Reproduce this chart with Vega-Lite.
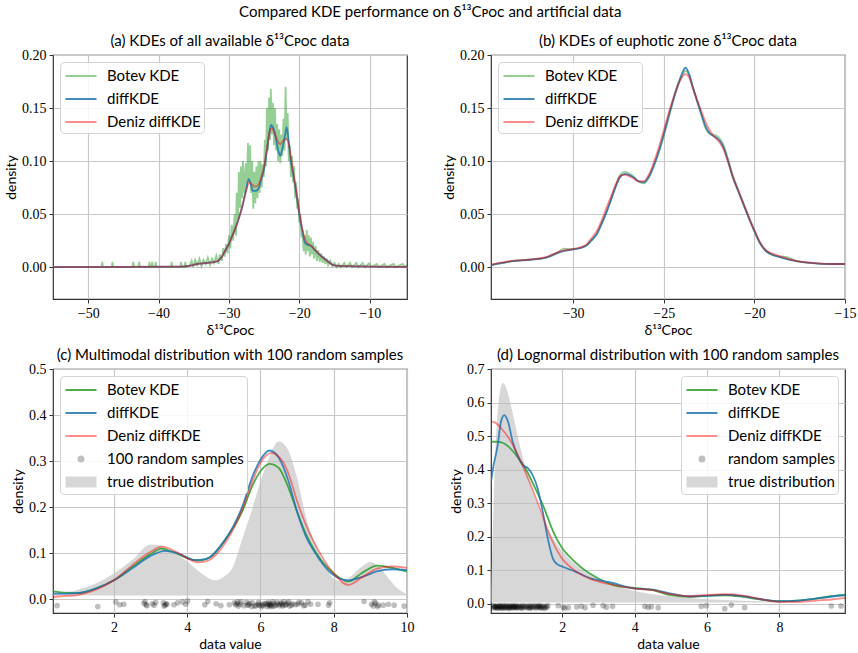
{
"$schema": "https://vega.github.io/schema/vega-lite/v6.json",
"padding": {"left": 3, "top": 5, "right": 0, "bottom": 0},
"title": {"text": "Compared KDE performance on δ¹³Cᴘᴏᴄ and artificial data", "frame": "bounds", "anchor": "middle", "fontSize": 15, "offset": 13},
"columns": 2,
"spacing": {"row": 70, "column": 84},
"bounds": "flush",
"resolve": {"scale": {"color": "independent", "stroke": "independent", "shape": "independent", "x": "independent", "y": "independent"}, "legend": {"color": "independent", "stroke": "independent", "shape": "independent"}},
"datasets": {
"a_botev": [{"x":-55,"y":0},{"x":-48.1,"y":0},{"x":-48.0,"y":0.005},{"x":-47.9,"y":0},{"x":-46.65,"y":0},{"x":-46.55,"y":0.005},{"x":-46.45,"y":0},{"x":-43.7,"y":0},{"x":-43.6,"y":0.005},{"x":-43.5,"y":0},{"x":-42.85,"y":0},{"x":-42.75,"y":0.005},{"x":-42.65,"y":0},{"x":-41.4,"y":0},{"x":-41.3,"y":0.005},{"x":-41.2,"y":0},{"x":-41.0,"y":0},{"x":-40.9,"y":0.005},{"x":-40.8,"y":0},{"x":-40.5,"y":0},{"x":-40.4,"y":0.005},{"x":-40.3,"y":0},{"x":-38.25,"y":0},{"x":-38.15,"y":0.005},{"x":-38.05,"y":0},{"x":-36.9,"y":0},{"x":-36.8,"y":0.005},{"x":-36.7,"y":0},{"x":-36.3,"y":0},{"x":-36.2,"y":0.005},{"x":-36.1,"y":0},{"x":-35.6,"y":0.001},{"x":-35.3,"y":0.006},{"x":-35.1,"y":0.0},{"x":-34.8,"y":0.007},{"x":-34.5,"y":0.002},{"x":-34.2,"y":0.008},{"x":-33.9,"y":0.001},{"x":-33.6,"y":0.007},{"x":-33.3,"y":0.003},{"x":-33.0,"y":0.009},{"x":-32.7,"y":0.002},{"x":-32.4,"y":0.008},{"x":-32.1,"y":0.004},{"x":-31.8,"y":0.011},{"x":-31.5,"y":0.003},{"x":-31.3,"y":0.012},{"x":-31.0,"y":0.006},{"x":-30.8,"y":0.018},{"x":-30.6,"y":0.01},{"x":-30.4,"y":0.022},{"x":-30.2,"y":0.013},{"x":-30.0,"y":0.03},{"x":-29.8,"y":0.018},{"x":-29.6,"y":0.04},{"x":-29.4,"y":0.025},{"x":-29.2,"y":0.05},{"x":-29.0,"y":0.03},{"x":-28.9,"y":0.07},{"x":-28.7,"y":0.045},{"x":-28.6,"y":0.09},{"x":-28.4,"y":0.056},{"x":-28.3,"y":0.095},{"x":-28.1,"y":0.065},{"x":-28.0,"y":0.1},{"x":-27.8,"y":0.07},{"x":-27.6,"y":0.098},{"x":-27.45,"y":0.075},{"x":-27.3,"y":0.117},{"x":-27.15,"y":0.08},{"x":-27.0,"y":0.115},{"x":-26.85,"y":0.07},{"x":-26.7,"y":0.1},{"x":-26.55,"y":0.055},{"x":-26.4,"y":0.09},{"x":-26.25,"y":0.06},{"x":-26.1,"y":0.095},{"x":-25.95,"y":0.065},{"x":-25.8,"y":0.1},{"x":-25.65,"y":0.07},{"x":-25.5,"y":0.1},{"x":-25.35,"y":0.075},{"x":-25.2,"y":0.097},{"x":-25.05,"y":0.085},{"x":-24.9,"y":0.12},{"x":-24.75,"y":0.095},{"x":-24.6,"y":0.15},{"x":-24.45,"y":0.11},{"x":-24.3,"y":0.16},{"x":-24.15,"y":0.12},{"x":-24.05,"y":0.168},{"x":-23.9,"y":0.125},{"x":-23.75,"y":0.155},{"x":-23.6,"y":0.115},{"x":-23.45,"y":0.15},{"x":-23.3,"y":0.11},{"x":-23.15,"y":0.135},{"x":-23.0,"y":0.1},{"x":-22.85,"y":0.13},{"x":-22.7,"y":0.098},{"x":-22.55,"y":0.125},{"x":-22.4,"y":0.105},{"x":-22.25,"y":0.14},{"x":-22.1,"y":0.11},{"x":-21.95,"y":0.17},{"x":-21.8,"y":0.12},{"x":-21.65,"y":0.145},{"x":-21.5,"y":0.1},{"x":-21.35,"y":0.115},{"x":-21.2,"y":0.085},{"x":-21.05,"y":0.105},{"x":-20.9,"y":0.08},{"x":-20.75,"y":0.095},{"x":-20.6,"y":0.065},{"x":-20.45,"y":0.08},{"x":-20.3,"y":0.055},{"x":-20.15,"y":0.065},{"x":-20.0,"y":0.042},{"x":-19.85,"y":0.05},{"x":-19.7,"y":0.028},{"x":-19.55,"y":0.035},{"x":-19.4,"y":0.015},{"x":-19.25,"y":0.03},{"x":-19.1,"y":0.012},{"x":-18.95,"y":0.035},{"x":-18.8,"y":0.015},{"x":-18.65,"y":0.03},{"x":-18.5,"y":0.01},{"x":-18.35,"y":0.028},{"x":-18.2,"y":0.012},{"x":-18.05,"y":0.024},{"x":-17.9,"y":0.008},{"x":-17.7,"y":0.02},{"x":-17.5,"y":0.006},{"x":-17.3,"y":0.016},{"x":-17.1,"y":0.005},{"x":-16.9,"y":0.013},{"x":-16.7,"y":0.004},{"x":-16.5,"y":0.01},{"x":-16.3,"y":0.003},{"x":-16.1,"y":0.008},{"x":-15.9,"y":0.002},{"x":-15.6,"y":0.006},{"x":-15.3,"y":0.001},{"x":-15.0,"y":0.004},{"x":-14.7,"y":0.0},{"x":-14.4,"y":0.003},{"x":-14.1,"y":0.0},{"x":-13.6,"y":0.004},{"x":-13.3,"y":0.0},{"x":-12.8,"y":0.004},{"x":-12.5,"y":0.0},{"x":-11.9,"y":0.004},{"x":-11.6,"y":0.0},{"x":-11.0,"y":0.004},{"x":-10.7,"y":0.0},{"x":-10.1,"y":0.0035},{"x":-9.8,"y":0.0},{"x":-9.0,"y":0.003},{"x":-8.7,"y":0.0},{"x":-7.9,"y":0.003},{"x":-7.6,"y":0.0},{"x":-6.6,"y":0.003},{"x":-6.3,"y":0.0},{"x":-5.3,"y":0.003},{"x":-5.0,"y":0.0},{"x":-4.7,"y":0.002}],
"a_diff": [{"x":-55,"y":0},{"x":-45,"y":0.0002},{"x":-37,"y":0.0005},{"x":-35.5,"y":0.0015},{"x":-34.5,"y":0.003},{"x":-33,"y":0.004},{"x":-32,"y":0.005},{"x":-31.5,"y":0.006},{"x":-31,"y":0.01},{"x":-30.5,"y":0.016},{"x":-30,"y":0.022},{"x":-29.5,"y":0.03},{"x":-29,"y":0.038},{"x":-28.5,"y":0.048},{"x":-28,"y":0.06},{"x":-27.6,"y":0.072},{"x":-27.2,"y":0.083},{"x":-26.9,"y":0.078},{"x":-26.6,"y":0.072},{"x":-26.2,"y":0.072},{"x":-25.8,"y":0.074},{"x":-25.4,"y":0.083},{"x":-25,"y":0.093},{"x":-24.6,"y":0.11},{"x":-24.3,"y":0.125},{"x":-24.0,"y":0.134},{"x":-23.7,"y":0.131},{"x":-23.4,"y":0.124},{"x":-23.0,"y":0.11},{"x":-22.7,"y":0.105},{"x":-22.4,"y":0.112},{"x":-22.0,"y":0.125},{"x":-21.8,"y":0.132},{"x":-21.5,"y":0.118},{"x":-21.2,"y":0.1},{"x":-20.8,"y":0.085},{"x":-20.5,"y":0.073},{"x":-20,"y":0.05},{"x":-19.5,"y":0.032},{"x":-19.2,"y":0.023},{"x":-18.8,"y":0.021},{"x":-18.3,"y":0.02},{"x":-17.8,"y":0.016},{"x":-17,"y":0.011},{"x":-16,"y":0.006},{"x":-15.2,"y":0.002},{"x":-14.5,"y":0.0012},{"x":-12,"y":0.0008},{"x":-10,"y":0.0005},{"x":-7,"y":0.0003},{"x":-4.7,"y":0.0002}],
"a_deniz": [{"x":-55,"y":0},{"x":-45,"y":0.0002},{"x":-37,"y":0.0005},{"x":-35.5,"y":0.0015},{"x":-34.5,"y":0.003},{"x":-33,"y":0.004},{"x":-32,"y":0.005},{"x":-31.5,"y":0.006},{"x":-31,"y":0.01},{"x":-30.5,"y":0.016},{"x":-30,"y":0.022},{"x":-29.5,"y":0.03},{"x":-29,"y":0.038},{"x":-28.5,"y":0.048},{"x":-28,"y":0.06},{"x":-27.5,"y":0.073},{"x":-27.1,"y":0.08},{"x":-26.7,"y":0.078},{"x":-26.3,"y":0.076},{"x":-25.9,"y":0.077},{"x":-25.5,"y":0.083},{"x":-25,"y":0.095},{"x":-24.6,"y":0.112},{"x":-24.2,"y":0.128},{"x":-23.9,"y":0.131},{"x":-23.5,"y":0.126},{"x":-23.0,"y":0.118},{"x":-22.7,"y":0.116},{"x":-22.3,"y":0.119},{"x":-21.9,"y":0.121},{"x":-21.5,"y":0.116},{"x":-21.1,"y":0.1},{"x":-20.7,"y":0.083},{"x":-20.3,"y":0.066},{"x":-20,"y":0.052},{"x":-19.5,"y":0.034},{"x":-19,"y":0.024},{"x":-18.5,"y":0.021},{"x":-18,"y":0.018},{"x":-17.3,"y":0.013},{"x":-16.5,"y":0.008},{"x":-15.5,"y":0.003},{"x":-14.5,"y":0.0012},{"x":-12,"y":0.0008},{"x":-10,"y":0.0005},{"x":-4.7,"y":0.0002}],
"b_botev": [{"x":-34.53,"y":0.002},{"x":-33.9,"y":0.004},{"x":-33.3,"y":0.006},{"x":-32.4,"y":0.007},{"x":-31.5,"y":0.009},{"x":-30.9,"y":0.013},{"x":-30.5,"y":0.0175},{"x":-30.2,"y":0.017},{"x":-30,"y":0.017},{"x":-29.3,"y":0.02},{"x":-29.0,"y":0.025},{"x":-28.7,"y":0.031},{"x":-28.45,"y":0.04},{"x":-28.2,"y":0.05},{"x":-27.9,"y":0.064},{"x":-27.6,"y":0.079},{"x":-27.4,"y":0.087},{"x":-27.15,"y":0.09},{"x":-26.9,"y":0.088},{"x":-26.7,"y":0.086},{"x":-26.4,"y":0.081},{"x":-26.1,"y":0.079},{"x":-25.8,"y":0.085},{"x":-25.5,"y":0.097},{"x":-25.2,"y":0.112},{"x":-24.95,"y":0.127},{"x":-24.7,"y":0.143},{"x":-24.2,"y":0.172},{"x":-24.0,"y":0.18},{"x":-23.8,"y":0.185},{"x":-23.6,"y":0.181},{"x":-23.4,"y":0.17},{"x":-22.9,"y":0.142},{"x":-22.7,"y":0.131},{"x":-22.5,"y":0.126},{"x":-22.3,"y":0.125},{"x":-22.1,"y":0.124},{"x":-21.9,"y":0.121},{"x":-21.7,"y":0.115},{"x":-21.45,"y":0.102},{"x":-21.2,"y":0.087},{"x":-20.9,"y":0.073},{"x":-20.6,"y":0.06},{"x":-20.3,"y":0.047},{"x":-20.0,"y":0.034},{"x":-19.7,"y":0.023},{"x":-19.35,"y":0.015},{"x":-18.8,"y":0.0105},{"x":-18.2,"y":0.0095},{"x":-17.7,"y":0.006},{"x":-16.8,"y":0.004},{"x":-15.9,"y":0.003},{"x":-15,"y":0.003}],
"b_diff": [{"x":-34.53,"y":0.002},{"x":-33.9,"y":0.004},{"x":-33.3,"y":0.0057},{"x":-32.4,"y":0.007},{"x":-31.5,"y":0.009},{"x":-30.7,"y":0.0145},{"x":-30,"y":0.0167},{"x":-29.3,"y":0.02},{"x":-29.0,"y":0.025},{"x":-28.7,"y":0.031},{"x":-28.45,"y":0.04},{"x":-28.2,"y":0.05},{"x":-27.9,"y":0.064},{"x":-27.6,"y":0.078},{"x":-27.4,"y":0.085},{"x":-27.15,"y":0.088},{"x":-26.7,"y":0.085},{"x":-26.4,"y":0.081},{"x":-26.1,"y":0.08},{"x":-25.8,"y":0.086},{"x":-25.5,"y":0.098},{"x":-25.2,"y":0.113},{"x":-24.95,"y":0.128},{"x":-24.7,"y":0.144},{"x":-24.2,"y":0.173},{"x":-24.0,"y":0.182},{"x":-23.8,"y":0.188},{"x":-23.6,"y":0.182},{"x":-23.4,"y":0.17},{"x":-22.9,"y":0.143},{"x":-22.7,"y":0.133},{"x":-22.5,"y":0.127},{"x":-22.3,"y":0.124},{"x":-22.1,"y":0.122},{"x":-21.9,"y":0.119},{"x":-21.7,"y":0.113},{"x":-21.45,"y":0.1},{"x":-21.2,"y":0.085},{"x":-20.9,"y":0.072},{"x":-20.6,"y":0.059},{"x":-20.3,"y":0.046},{"x":-20.0,"y":0.034},{"x":-19.7,"y":0.023},{"x":-19.35,"y":0.015},{"x":-18.6,"y":0.0095},{"x":-17.7,"y":0.0057},{"x":-16.8,"y":0.0038},{"x":-15.9,"y":0.003},{"x":-15,"y":0.003}],
"b_deniz": [{"x":-34.53,"y":0.0025},{"x":-33.9,"y":0.0045},{"x":-33.3,"y":0.006},{"x":-32.4,"y":0.0072},{"x":-31.5,"y":0.0095},{"x":-30.7,"y":0.015},{"x":-30.3,"y":0.0165},{"x":-30,"y":0.0172},{"x":-29.3,"y":0.021},{"x":-29.0,"y":0.027},{"x":-28.7,"y":0.034},{"x":-28.45,"y":0.043},{"x":-28.2,"y":0.054},{"x":-27.9,"y":0.067},{"x":-27.6,"y":0.08},{"x":-27.4,"y":0.086},{"x":-27.15,"y":0.087},{"x":-26.7,"y":0.084},{"x":-26.4,"y":0.081},{"x":-26.1,"y":0.081},{"x":-25.8,"y":0.088},{"x":-25.5,"y":0.101},{"x":-25.2,"y":0.117},{"x":-24.95,"y":0.132},{"x":-24.7,"y":0.147},{"x":-24.2,"y":0.172},{"x":-24.0,"y":0.179},{"x":-23.8,"y":0.182},{"x":-23.6,"y":0.179},{"x":-23.4,"y":0.169},{"x":-22.9,"y":0.146},{"x":-22.7,"y":0.137},{"x":-22.5,"y":0.13},{"x":-22.3,"y":0.125},{"x":-22.1,"y":0.121},{"x":-21.9,"y":0.117},{"x":-21.7,"y":0.111},{"x":-21.45,"y":0.099},{"x":-21.2,"y":0.086},{"x":-20.9,"y":0.073},{"x":-20.6,"y":0.06},{"x":-20.3,"y":0.047},{"x":-20.0,"y":0.035},{"x":-19.7,"y":0.024},{"x":-19.35,"y":0.016},{"x":-18.6,"y":0.0105},{"x":-17.7,"y":0.006},{"x":-16.8,"y":0.004},{"x":-15.9,"y":0.003},{"x":-15,"y":0.003}],
"c_true": [{"x":0.34,"y":0.011},{"x":0.6,"y":0.013},{"x":1,"y":0.02},{"x":1.5,"y":0.034},{"x":2,"y":0.056},{"x":2.5,"y":0.085},{"x":3,"y":0.119},{"x":3.25,"y":0.117},{"x":3.5,"y":0.107},{"x":4,"y":0.082},{"x":4.5,"y":0.05},{"x":4.75,"y":0.041},{"x":5,"y":0.049},{"x":5.25,"y":0.07},{"x":5.5,"y":0.13},{"x":5.75,"y":0.19},{"x":6,"y":0.255},{"x":6.25,"y":0.31},{"x":6.5,"y":0.343},{"x":6.75,"y":0.325},{"x":7,"y":0.263},{"x":7.25,"y":0.176},{"x":7.5,"y":0.118},{"x":7.75,"y":0.074},{"x":8,"y":0.045},{"x":8.25,"y":0.038},{"x":8.5,"y":0.052},{"x":8.75,"y":0.07},{"x":9,"y":0.081},{"x":9.25,"y":0.07},{"x":9.5,"y":0.045},{"x":9.75,"y":0.023},{"x":10,"y":0.011}],
"c_botev": [{"x":0.34,"y":0.017},{"x":0.7,"y":0.014},{"x":1,"y":0.013},{"x":1.5,"y":0.023},{"x":2,"y":0.041},{"x":2.5,"y":0.07},{"x":3,"y":0.098},{"x":3.3,"y":0.11},{"x":3.6,"y":0.103},{"x":4,"y":0.089},{"x":4.3,"y":0.084},{"x":4.6,"y":0.09},{"x":5,"y":0.125},{"x":5.5,"y":0.19},{"x":5.8,"y":0.25},{"x":6,"y":0.278},{"x":6.25,"y":0.294},{"x":6.5,"y":0.285},{"x":6.75,"y":0.245},{"x":7,"y":0.19},{"x":7.25,"y":0.14},{"x":7.5,"y":0.103},{"x":8,"y":0.056},{"x":8.4,"y":0.038},{"x":8.75,"y":0.056},{"x":9.2,"y":0.073},{"x":9.6,"y":0.068},{"x":10,"y":0.06}],
"c_diff": [{"x":0.34,"y":0.012},{"x":0.7,"y":0.012},{"x":1,"y":0.013},{"x":1.5,"y":0.023},{"x":2,"y":0.041},{"x":2.5,"y":0.067},{"x":3,"y":0.094},{"x":3.4,"y":0.105},{"x":3.8,"y":0.098},{"x":4.2,"y":0.085},{"x":4.5,"y":0.087},{"x":5,"y":0.125},{"x":5.5,"y":0.2},{"x":5.8,"y":0.27},{"x":6,"y":0.303},{"x":6.25,"y":0.323},{"x":6.5,"y":0.307},{"x":6.75,"y":0.26},{"x":7,"y":0.19},{"x":7.25,"y":0.135},{"x":7.5,"y":0.1},{"x":8,"y":0.052},{"x":8.4,"y":0.041},{"x":8.8,"y":0.049},{"x":9.2,"y":0.061},{"x":9.6,"y":0.065},{"x":10,"y":0.063}],
"c_deniz": [{"x":0.34,"y":0.005},{"x":0.7,"y":0.007},{"x":1,"y":0.009},{"x":1.5,"y":0.02},{"x":2,"y":0.041},{"x":2.5,"y":0.074},{"x":3,"y":0.103},{"x":3.3,"y":0.114},{"x":3.7,"y":0.103},{"x":4,"y":0.089},{"x":4.3,"y":0.08},{"x":4.6,"y":0.085},{"x":5,"y":0.118},{"x":5.5,"y":0.194},{"x":5.8,"y":0.26},{"x":6,"y":0.296},{"x":6.3,"y":0.318},{"x":6.6,"y":0.3},{"x":6.8,"y":0.265},{"x":7,"y":0.213},{"x":7.25,"y":0.16},{"x":7.5,"y":0.118},{"x":8,"y":0.056},{"x":8.4,"y":0.031},{"x":8.8,"y":0.049},{"x":9.2,"y":0.067},{"x":9.6,"y":0.071},{"x":10,"y":0.068}],
"c_samples": [{"x":0.45,"y":-0.014},{"x":1.56,"y":-0.016},{"x":2.05,"y":-0.006},{"x":2.16,"y":-0.012},{"x":2.27,"y":-0.011},{"x":2.82,"y":-0.009},{"x":2.85,"y":-0.005},{"x":3.10,"y":-0.013},{"x":3.14,"y":-0.007},{"x":3.37,"y":-0.015},{"x":3.42,"y":-0.01},{"x":3.64,"y":-0.012},{"x":3.74,"y":-0.008},{"x":3.87,"y":-0.006},{"x":3.96,"y":-0.011},{"x":4.01,"y":-0.004},{"x":4.48,"y":-0.012},{"x":4.56,"y":-0.005},{"x":4.79,"y":-0.01},{"x":4.92,"y":-0.014},{"x":5.15,"y":-0.012},{"x":5.29,"y":-0.008},{"x":5.36,"y":-0.01},{"x":5.40,"y":-0.015},{"x":5.47,"y":-0.006},{"x":5.65,"y":-0.013},{"x":5.70,"y":-0.009},{"x":5.76,"y":-0.016},{"x":5.84,"y":-0.015},{"x":5.93,"y":-0.011},{"x":5.97,"y":-0.013},{"x":6.02,"y":-0.016},{"x":6.11,"y":-0.009},{"x":6.20,"y":-0.011},{"x":6.25,"y":-0.015},{"x":6.29,"y":-0.013},{"x":6.34,"y":-0.006},{"x":6.38,"y":-0.015},{"x":6.48,"y":-0.011},{"x":6.57,"y":-0.008},{"x":6.61,"y":-0.015},{"x":6.70,"y":-0.011},{"x":6.77,"y":-0.006},{"x":6.84,"y":-0.013},{"x":7.02,"y":-0.011},{"x":7.12,"y":-0.008},{"x":7.22,"y":-0.013},{"x":7.30,"y":-0.006},{"x":7.37,"y":-0.011},{"x":7.57,"y":-0.011},{"x":7.86,"y":-0.013},{"x":7.89,"y":-0.008},{"x":8.83,"y":-0.005},{"x":9.03,"y":-0.011},{"x":9.11,"y":-0.006},{"x":9.22,"y":-0.013},{"x":9.35,"y":-0.013},{"x":9.49,"y":-0.011},{"x":9.65,"y":-0.013},{"x":9.92,"y":-0.015},{"x":2.88,"y":-0.012},{"x":3.05,"y":-0.01},{"x":3.35,"y":-0.008},{"x":3.40,"y":-0.013},{"x":5.32,"y":-0.012},{"x":5.38,"y":-0.006},{"x":5.44,"y":-0.011},{"x":5.55,"y":-0.014},{"x":5.62,"y":-0.007},{"x":5.68,"y":-0.012},{"x":5.78,"y":-0.008},{"x":5.88,"y":-0.014},{"x":5.95,"y":-0.007},{"x":6.05,"y":-0.012},{"x":6.08,"y":-0.014},{"x":6.15,"y":-0.01},{"x":6.18,"y":-0.016},{"x":6.22,"y":-0.007},{"x":6.24,"y":-0.012},{"x":6.27,"y":-0.01},{"x":6.31,"y":-0.016},{"x":6.36,"y":-0.01},{"x":6.42,"y":-0.013},{"x":6.45,"y":-0.007},{"x":6.52,"y":-0.014},{"x":6.55,"y":-0.01},{"x":6.6,"y":-0.012},{"x":6.64,"y":-0.006},{"x":6.68,"y":-0.013},{"x":6.74,"y":-0.009},{"x":6.8,"y":-0.015},{"x":6.88,"y":-0.01},{"x":6.95,"y":-0.012},{"x":7.05,"y":-0.007},{"x":7.18,"y":-0.014},{"x":9.08,"y":-0.015},{"x":9.14,"y":-0.009},{"x":9.2,"y":-0.016},{"x":3.45,"y":-0.011},{"x":2.9,"y":-0.014}],
"d_true": [{"x":0.033,"y":0.036},{"x":0.07,"y":0.166},{"x":0.1,"y":0.282},{"x":0.15,"y":0.44},{"x":0.2,"y":0.546},{"x":0.25,"y":0.61},{"x":0.3,"y":0.644},{"x":0.37,"y":0.658},{"x":0.45,"y":0.645},{"x":0.5,"y":0.628},{"x":0.6,"y":0.584},{"x":0.7,"y":0.535},{"x":0.8,"y":0.486},{"x":0.9,"y":0.441},{"x":1,"y":0.399},{"x":1.2,"y":0.327},{"x":1.4,"y":0.269},{"x":1.6,"y":0.223},{"x":1.8,"y":0.187},{"x":2,"y":0.157},{"x":2.5,"y":0.105},{"x":3,"y":0.073},{"x":3.5,"y":0.052},{"x":4,"y":0.038},{"x":5,"y":0.022},{"x":6,"y":0.013},{"x":7,"y":0.0086},{"x":8,"y":0.0057},{"x":9,"y":0.004},{"x":9.81,"y":0.003}],
"d_botev": [{"x":0.033,"y":0.483},{"x":0.2,"y":0.483},{"x":0.35,"y":0.48},{"x":0.5,"y":0.47},{"x":0.75,"y":0.44},{"x":1.0,"y":0.4},{"x":1.25,"y":0.345},{"x":1.5,"y":0.285},{"x":1.75,"y":0.215},{"x":2,"y":0.165},{"x":2.25,"y":0.135},{"x":2.5,"y":0.11},{"x":3,"y":0.075},{"x":3.5,"y":0.053},{"x":4,"y":0.047},{"x":4.5,"y":0.04},{"x":5,"y":0.025},{"x":5.5,"y":0.02},{"x":6,"y":0.023},{"x":6.5,"y":0.025},{"x":7,"y":0.02},{"x":7.5,"y":0.012},{"x":8,"y":0.007},{"x":8.5,"y":0.009},{"x":9,"y":0.015},{"x":9.5,"y":0.023},{"x":9.81,"y":0.027}],
"d_diff": [{"x":0.033,"y":0.364},{"x":0.1,"y":0.41},{"x":0.22,"y":0.474},{"x":0.31,"y":0.544},{"x":0.40,"y":0.562},{"x":0.5,"y":0.544},{"x":0.63,"y":0.484},{"x":0.77,"y":0.44},{"x":0.91,"y":0.414},{"x":1.05,"y":0.404},{"x":1.18,"y":0.384},{"x":1.32,"y":0.344},{"x":1.46,"y":0.275},{"x":1.6,"y":0.195},{"x":1.74,"y":0.135},{"x":1.87,"y":0.117},{"x":2.01,"y":0.11},{"x":2.33,"y":0.097},{"x":2.79,"y":0.075},{"x":3.34,"y":0.063},{"x":4,"y":0.045},{"x":4.5,"y":0.042},{"x":5,"y":0.03},{"x":5.5,"y":0.022},{"x":6,"y":0.023},{"x":6.5,"y":0.026},{"x":7,"y":0.022},{"x":7.5,"y":0.013},{"x":8,"y":0.007},{"x":8.5,"y":0.009},{"x":9,"y":0.015},{"x":9.5,"y":0.022},{"x":9.81,"y":0.025}],
"d_deniz": [{"x":0.033,"y":0.544},{"x":0.15,"y":0.54},{"x":0.31,"y":0.524},{"x":0.58,"y":0.484},{"x":0.86,"y":0.424},{"x":1.13,"y":0.354},{"x":1.41,"y":0.275},{"x":1.69,"y":0.195},{"x":1.96,"y":0.14},{"x":2.33,"y":0.1},{"x":2.79,"y":0.073},{"x":3.3,"y":0.058},{"x":4,"y":0.045},{"x":4.5,"y":0.04},{"x":5,"y":0.028},{"x":5.5,"y":0.022},{"x":6,"y":0.026},{"x":6.5,"y":0.028},{"x":7,"y":0.024},{"x":7.5,"y":0.013},{"x":8,"y":0.005},{"x":8.5,"y":0.005},{"x":9,"y":0.009},{"x":9.5,"y":0.013},{"x":9.81,"y":0.017}],
"d_samples": [{"x":1.89,"y":-0.006},{"x":2.03,"y":-0.011},{"x":2.07,"y":-0.013},{"x":2.17,"y":-0.012},{"x":2.40,"y":-0.01},{"x":2.53,"y":-0.008},{"x":2.63,"y":-0.012},{"x":2.85,"y":-0.005},{"x":3.13,"y":-0.006},{"x":3.22,"y":-0.011},{"x":3.39,"y":-0.008},{"x":4.28,"y":-0.008},{"x":4.37,"y":-0.011},{"x":4.46,"y":-0.009},{"x":4.65,"y":-0.012},{"x":5.84,"y":-0.008},{"x":5.98,"y":-0.006},{"x":6.49,"y":-0.015},{"x":6.67,"y":-0.004},{"x":7.04,"y":-0.012},{"x":9.43,"y":-0.007},{"x":9.70,"y":-0.007},{"x":0.08,"y":-0.01},{"x":0.1,"y":-0.006},{"x":0.12,"y":-0.013},{"x":0.14,"y":-0.009},{"x":0.15,"y":-0.011},{"x":0.17,"y":-0.007},{"x":0.19,"y":-0.012},{"x":0.2,"y":-0.009},{"x":0.22,"y":-0.014},{"x":0.24,"y":-0.008},{"x":0.25,"y":-0.011},{"x":0.27,"y":-0.006},{"x":0.28,"y":-0.013},{"x":0.3,"y":-0.01},{"x":0.31,"y":-0.007},{"x":0.33,"y":-0.012},{"x":0.35,"y":-0.009},{"x":0.36,"y":-0.014},{"x":0.38,"y":-0.006},{"x":0.4,"y":-0.011},{"x":0.41,"y":-0.008},{"x":0.43,"y":-0.013},{"x":0.45,"y":-0.01},{"x":0.47,"y":-0.006},{"x":0.48,"y":-0.012},{"x":0.5,"y":-0.009},{"x":0.52,"y":-0.014},{"x":0.54,"y":-0.007},{"x":0.56,"y":-0.011},{"x":0.58,"y":-0.008},{"x":0.6,"y":-0.013},{"x":0.62,"y":-0.006},{"x":0.64,"y":-0.01},{"x":0.66,"y":-0.012},{"x":0.68,"y":-0.008},{"x":0.7,"y":-0.011},{"x":0.72,"y":-0.006},{"x":0.74,"y":-0.013},{"x":0.76,"y":-0.009},{"x":0.79,"y":-0.011},{"x":0.81,"y":-0.007},{"x":0.84,"y":-0.012},{"x":0.86,"y":-0.009},{"x":0.89,"y":-0.014},{"x":0.91,"y":-0.006},{"x":0.94,"y":-0.011},{"x":0.97,"y":-0.008},{"x":1.0,"y":-0.012},{"x":1.02,"y":-0.007},{"x":1.05,"y":-0.01},{"x":1.08,"y":-0.013},{"x":1.1,"y":-0.006},{"x":1.12,"y":-0.011},{"x":1.15,"y":-0.008},{"x":1.18,"y":-0.012},{"x":1.2,"y":-0.009},{"x":1.23,"y":-0.006},{"x":1.26,"y":-0.011},{"x":1.28,"y":-0.013},{"x":1.3,"y":-0.008},{"x":1.33,"y":-0.01},{"x":1.35,"y":-0.006},{"x":1.38,"y":-0.012},{"x":1.4,"y":-0.009},{"x":1.42,"y":-0.013},{"x":1.45,"y":-0.007},{"x":1.47,"y":-0.011},{"x":1.5,"y":-0.014},{"x":1.52,"y":-0.008},{"x":1.55,"y":-0.012},{"x":1.58,"y":-0.01},{"x":1.6,"y":-0.006},{"x":0.55,"y":-0.012},{"x":0.65,"y":-0.009},{"x":0.73,"y":-0.011},{"x":0.88,"y":-0.01},{"x":1.11,"y":-0.013},{"x":1.37,"y":-0.008}]
},
"concat": [
{
"width": 354, "height": 244,
"title": {"text": "(a) KDEs of all available δ¹³Cᴘᴏᴄ data", "offset": -1},
"encoding": {
"x": {"field": "x", "type": "quantitative", "scale": {"domain": [-55, -4.7], "nice": false, "zero": false}, "axis": {"values": [-50, -40, -30, -20, -10], "title": "δ¹³Cᴘᴏᴄ"}},
"y": {"field": "y", "type": "quantitative", "scale": {"domain": [-0.03, 0.2], "nice": false, "zero": false}, "axis": {"values": [0, 0.05, 0.1, 0.15, 0.2], "format": ".2f", "title": "density"}}
},
"layer": [
{"data": {"name": "a_botev"}, "mark": {"type": "line", "strokeWidth": 1.8, "clip": true, "color": "#2ca02c", "opacity": 0.5}},
{"data": {"name": "a_diff"}, "mark": {"type": "line", "strokeWidth": 1.8, "clip": true, "interpolate": "monotone", "color": "#1f77b4", "opacity": 0.85}},
{"data": {"name": "a_deniz"}, "mark": {"type": "line", "strokeWidth": 1.8, "clip": true, "interpolate": "monotone", "color": "#ff0000", "opacity": 0.45}},
{"data": {"values": []}, "mark": {"type": "point", "filled": true, "opacity": 1, "size": 400, "strokeWidth": 2},
 "encoding": {
  "color": {"datum": "Botev KDE", "type": "nominal", "scale": {"domain": ["Botev KDE", "diffKDE", "Deniz diffKDE"], "range": ["#95cf95", "#418bbf", "#ff8c8c"]}, "legend": {"title": null, "orient": "top-left", "offset": 7, "symbolOpacity": 1}},
  "stroke": {"datum": "Botev KDE", "type": "nominal", "scale": {"domain": ["Botev KDE", "diffKDE", "Deniz diffKDE"], "range": ["#95cf95", "#418bbf", "#ff8c8c"]}, "legend": {"title": null, "orient": "top-left", "offset": 7, "symbolOpacity": 1}},
  "shape": {"datum": "Botev KDE", "type": "nominal", "scale": {"domain": ["Botev KDE", "diffKDE", "Deniz diffKDE"], "range": ["M-1.55,0H1.55", "M-1.55,0H1.55", "M-1.55,0H1.55"]}, "legend": {"title": null, "orient": "top-left", "offset": 7, "symbolOpacity": 1}}}}
]
},
{
"width": 354, "height": 244,
"title": {"text": "(b) KDEs of euphotic zone δ¹³Cᴘᴏᴄ data", "offset": -1},
"encoding": {
"x": {"field": "x", "type": "quantitative", "scale": {"domain": [-34.53, -15], "nice": false, "zero": false}, "axis": {"values": [-30, -25, -20, -15], "title": "δ¹³Cᴘᴏᴄ"}},
"y": {"field": "y", "type": "quantitative", "scale": {"domain": [-0.03, 0.2], "nice": false, "zero": false}, "axis": {"values": [0, 0.05, 0.1, 0.15, 0.2], "format": ".2f", "title": "density"}}
},
"layer": [
{"data": {"name": "b_botev"}, "mark": {"type": "line", "strokeWidth": 1.8, "clip": true, "interpolate": "monotone", "color": "#2ca02c", "opacity": 0.5}},
{"data": {"name": "b_diff"}, "mark": {"type": "line", "strokeWidth": 1.8, "clip": true, "interpolate": "monotone", "color": "#1f77b4", "opacity": 0.85}},
{"data": {"name": "b_deniz"}, "mark": {"type": "line", "strokeWidth": 1.8, "clip": true, "interpolate": "monotone", "color": "#ff0000", "opacity": 0.45}},
{"data": {"values": []}, "mark": {"type": "point", "filled": true, "opacity": 1, "size": 400, "strokeWidth": 2},
 "encoding": {
  "color": {"datum": "Botev KDE", "type": "nominal", "scale": {"domain": ["Botev KDE", "diffKDE", "Deniz diffKDE"], "range": ["#95cf95", "#418bbf", "#ff8c8c"]}, "legend": {"title": null, "orient": "top-left", "offset": 7, "symbolOpacity": 1}},
  "stroke": {"datum": "Botev KDE", "type": "nominal", "scale": {"domain": ["Botev KDE", "diffKDE", "Deniz diffKDE"], "range": ["#95cf95", "#418bbf", "#ff8c8c"]}, "legend": {"title": null, "orient": "top-left", "offset": 7, "symbolOpacity": 1}},
  "shape": {"datum": "Botev KDE", "type": "nominal", "scale": {"domain": ["Botev KDE", "diffKDE", "Deniz diffKDE"], "range": ["M-1.55,0H1.55", "M-1.55,0H1.55", "M-1.55,0H1.55"]}, "legend": {"title": null, "orient": "top-left", "offset": 7, "symbolOpacity": 1}}}}
]
},
{
"width": 354, "height": 244,
"title": {"text": "(c) Multimodal distribution with 100 random samples", "offset": -1},
"encoding": {
"x": {"field": "x", "type": "quantitative", "scale": {"domain": [0.338, 10], "nice": false, "zero": false}, "axis": {"values": [2, 4, 6, 8, 10], "title": "data value"}},
"y": {"field": "y", "type": "quantitative", "scale": {"domain": [-0.03, 0.5], "nice": false, "zero": false}, "axis": {"values": [0, 0.1, 0.2, 0.3, 0.4, 0.5], "format": ".1f", "title": "density"}}
},
"layer": [
{"data": {"name": "c_true"}, "mark": {"type": "area", "clip": true, "interpolate": "monotone", "color": "#bdbdbd", "opacity": 0.6}, "encoding": {"y2": {"datum": 0.008}}},
{"data": {"name": "c_samples"}, "mark": {"type": "point", "filled": true, "size": 32, "clip": true, "color": "#000000", "opacity": 0.25}},
{"data": {"name": "c_botev"}, "mark": {"type": "line", "strokeWidth": 1.8, "clip": true, "interpolate": "monotone", "color": "#2ca02c", "opacity": 0.85}},
{"data": {"name": "c_diff"}, "mark": {"type": "line", "strokeWidth": 1.8, "clip": true, "interpolate": "monotone", "color": "#1f77b4", "opacity": 0.85}},
{"data": {"name": "c_deniz"}, "mark": {"type": "line", "strokeWidth": 1.8, "clip": true, "interpolate": "monotone", "color": "#ff0000", "opacity": 0.45}},
{"data": {"values": []}, "mark": {"type": "point", "filled": true, "opacity": 1, "size": 400, "strokeWidth": 2},
 "encoding": {
  "color": {"datum": "100 random samples", "type": "nominal", "scale": {"domain": ["Botev KDE", "diffKDE", "Deniz diffKDE", "100 random samples", "true distribution"], "range": ["#4cae4c", "#418bbf", "#ff8c8c", "#bfbfbf", "#d7d7d7"]}, "legend": {"title": null, "orient": "top-left", "offset": 7, "symbolOpacity": 1}},
  "stroke": {"datum": "100 random samples", "type": "nominal", "scale": {"domain": ["Botev KDE", "diffKDE", "Deniz diffKDE", "100 random samples", "true distribution"], "range": ["#4cae4c", "#418bbf", "#ff8c8c", "#bfbfbf", "#d7d7d7"]}, "legend": {"title": null, "orient": "top-left", "offset": 7, "symbolOpacity": 1}},
  "shape": {"datum": "100 random samples", "type": "nominal", "scale": {"domain": ["Botev KDE", "diffKDE", "Deniz diffKDE", "100 random samples", "true distribution"], "range": ["M-1.55,0H1.55", "M-1.55,0H1.55", "M-1.55,0H1.55", "M0.25,0A0.25,0.25,0,1,1,-0.25,0A0.25,0.25,0,1,1,0.25,0Z", "M-1.45,-0.45H1.45V0.45H-1.45Z"]}, "legend": {"title": null, "orient": "top-left", "offset": 7, "symbolOpacity": 1}}}}
]
},
{
"width": 354, "height": 244,
"title": {"text": "(d) Lognormal distribution with 100 random samples", "offset": -1},
"encoding": {
"x": {"field": "x", "type": "quantitative", "scale": {"domain": [0.033, 9.81], "nice": false, "zero": false}, "axis": {"values": [2, 4, 6, 8], "title": "data value"}},
"y": {"field": "y", "type": "quantitative", "scale": {"domain": [-0.028, 0.7], "nice": false, "zero": false}, "axis": {"values": [0, 0.1, 0.2, 0.3, 0.4, 0.5, 0.6, 0.7], "format": ".1f", "title": "density"}}
},
"layer": [
{"data": {"name": "d_true"}, "mark": {"type": "area", "clip": true, "interpolate": "monotone", "color": "#bdbdbd", "opacity": 0.6}, "encoding": {"y2": {"datum": 0.003}}},
{"data": {"name": "d_samples"}, "mark": {"type": "point", "filled": true, "size": 32, "clip": true, "color": "#000000", "opacity": 0.25}},
{"data": {"name": "d_botev"}, "mark": {"type": "line", "strokeWidth": 1.8, "clip": true, "interpolate": "monotone", "color": "#2ca02c", "opacity": 0.85}},
{"data": {"name": "d_diff"}, "mark": {"type": "line", "strokeWidth": 1.8, "clip": true, "interpolate": "monotone", "color": "#1f77b4", "opacity": 0.85}},
{"data": {"name": "d_deniz"}, "mark": {"type": "line", "strokeWidth": 1.8, "clip": true, "interpolate": "monotone", "color": "#ff0000", "opacity": 0.45}},
{"data": {"values": []}, "mark": {"type": "point", "filled": true, "opacity": 1, "size": 400, "strokeWidth": 2},
 "encoding": {
  "color": {"datum": "random samples", "type": "nominal", "scale": {"domain": ["Botev KDE", "diffKDE", "Deniz diffKDE", "random samples", "true distribution"], "range": ["#4cae4c", "#418bbf", "#ff8c8c", "#bfbfbf", "#d7d7d7"]}, "legend": {"title": null, "orient": "top-right", "offset": 7, "symbolOpacity": 1}},
  "stroke": {"datum": "random samples", "type": "nominal", "scale": {"domain": ["Botev KDE", "diffKDE", "Deniz diffKDE", "random samples", "true distribution"], "range": ["#4cae4c", "#418bbf", "#ff8c8c", "#bfbfbf", "#d7d7d7"]}, "legend": {"title": null, "orient": "top-right", "offset": 7, "symbolOpacity": 1}},
  "shape": {"datum": "random samples", "type": "nominal", "scale": {"domain": ["Botev KDE", "diffKDE", "Deniz diffKDE", "random samples", "true distribution"], "range": ["M-1.55,0H1.55", "M-1.55,0H1.55", "M-1.55,0H1.55", "M0.25,0A0.25,0.25,0,1,1,-0.25,0A0.25,0.25,0,1,1,0.25,0Z", "M-1.45,-0.45H1.45V0.45H-1.45Z"]}, "legend": {"title": null, "orient": "top-right", "offset": 7, "symbolOpacity": 1}}}}
]
}
],
"config": {
"font": "Lato",
"background": "white",
"title": {"font": "Lato", "fontSize": 15, "fontWeight": "normal", "color": "#000000"},
"view": {"stroke": "#333333", "strokeWidth": 1.2},
"axis": {"labelFont": "Liberation Serif", "labelFontSize": 14, "labelColor": "#000000", "titleFont": "Lato", "titleFontSize": 14, "titleFontWeight": "normal", "titleColor": "#000000", "domain": false, "ticks": true, "tickColor": "#333333", "tickSize": 4, "tickWidth": 1, "grid": true, "gridColor": "#c8c8c8", "gridWidth": 1.2, "labelPadding": 3, "titlePadding": 3, "labelFlush": false, "labelOverlap": false, "labelBound": false},
"legend": {"labelFont": "Lato", "labelFontSize": 15, "labelColor": "#000000", "fillColor": "rgba(255,255,255,0.85)", "strokeColor": "#d4d4d4", "cornerRadius": 4, "padding": 3, "rowPadding": 4, "symbolSize": 400, "symbolStrokeWidth": 2, "symbolOffset": 7, "labelOffset": 15}
}
}
